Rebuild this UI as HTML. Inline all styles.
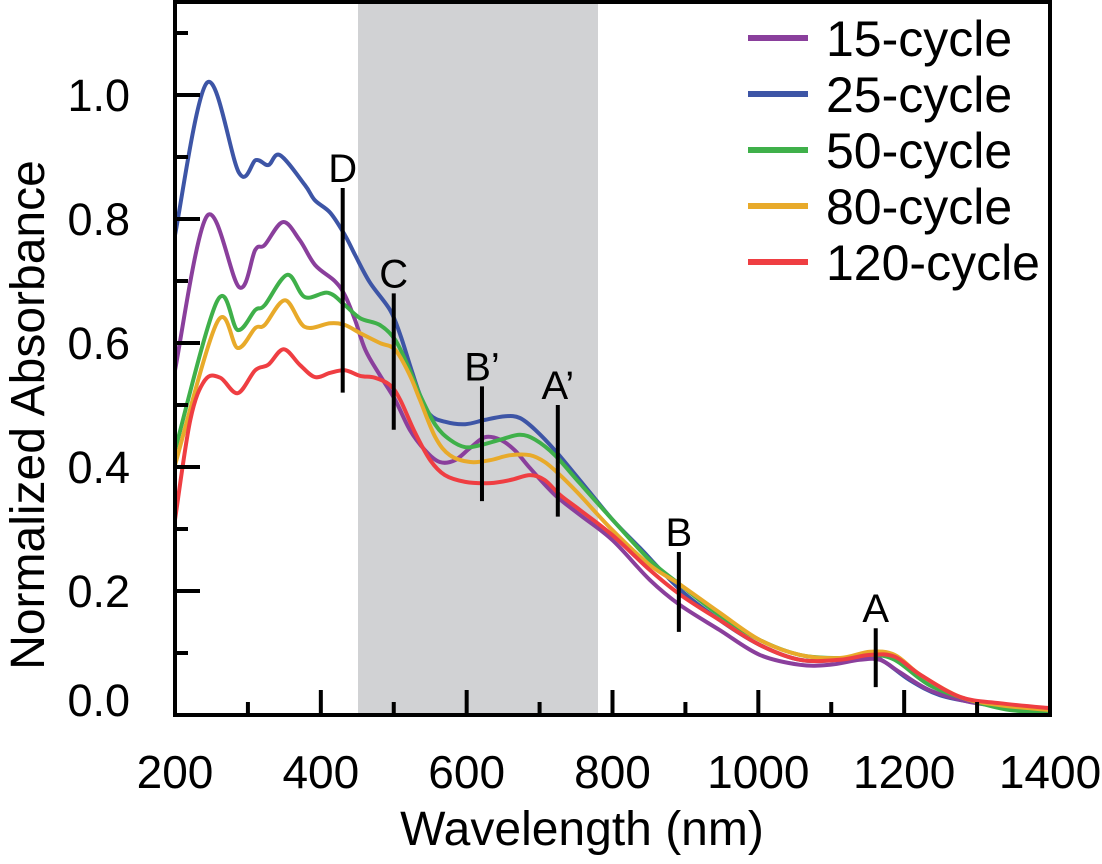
<!DOCTYPE html>
<html><head><meta charset="utf-8"><style>
html,body{margin:0;padding:0;background:#fff;}
svg{display:block;font-family:"Liberation Sans",Arial,sans-serif;}
</style></head><body>
<svg id="chart" width="1102" height="864" viewBox="0 0 1102 864">
<rect x="358" y="3" width="240" height="712" fill="#d1d2d4"/>
<g id="series"></g>
<g id="markers"></g>
<rect x="175" y="2" width="875" height="713" fill="none" stroke="#000" stroke-width="4"/>
<g id="axes"></g>
<text x="582" y="845" font-size="48" text-anchor="middle">Wavelength (nm)</text>
<text transform="translate(44,415) rotate(-90)" font-size="48" text-anchor="middle">Normalized Absorbance</text>
<g id="legend"></g>
</svg>
<script>
const seriesNames=["15-cycle","25-cycle","50-cycle","80-cycle","120-cycle"];
const seriesColors=["#8a3f9c","#3d55a6","#3fb04a","#e8aa2a","#ef3e42"];
const purpleWl=[200,244,288,310,323,348,371,392,419,433,447,461,481,502,522,543,563,584,605,625,646,666,687,721,755,800,851,893,947,1002,1057,1098,1139,1167,1194,1235,1290,1345,1400];
const purpleAbs=[0.556,0.805,0.69,0.75,0.758,0.795,0.766,0.726,0.70,0.677,0.637,0.589,0.548,0.508,0.46,0.427,0.408,0.411,0.431,0.448,0.444,0.427,0.398,0.355,0.323,0.282,0.218,0.177,0.137,0.097,0.081,0.081,0.089,0.089,0.069,0.04,0.021,0.013,0.01];
const blueWl=[200,244,288,311,328,344,378,392,413,433,447,467,495,509,522,536,550,570,598,625,653,673,694,721,755,800,838,893,947,1002,1057,1112,1153,1174,1208,1249,1304,1359,1400];
const blueAbs=[0.774,1.02,0.874,0.895,0.887,0.903,0.855,0.83,0.81,0.774,0.742,0.698,0.653,0.613,0.565,0.516,0.484,0.473,0.469,0.476,0.482,0.479,0.46,0.427,0.379,0.315,0.269,0.202,0.153,0.113,0.089,0.089,0.095,0.085,0.056,0.032,0.019,0.013,0.011];
const greenWl=[200,258,286,310,323,354,378,410,433,454,481,502,522,536,557,577,598,618,646,673,694,721,755,800,851,893,947,1002,1057,1112,1153,1187,1235,1290,1345,1400];
const greenAbs=[0.427,0.668,0.621,0.653,0.661,0.71,0.674,0.681,0.661,0.64,0.629,0.605,0.556,0.516,0.468,0.444,0.432,0.435,0.444,0.452,0.444,0.419,0.374,0.315,0.25,0.21,0.161,0.121,0.097,0.092,0.097,0.089,0.048,0.024,0.008,0.005];
const orangeWl=[200,258,286,310,323,351,378,413,433,454,481,502,522,536,557,577,605,632,660,687,707,728,755,800,851,893,947,1002,1057,1112,1153,1187,1222,1277,1331,1400];
const orangeAbs=[0.403,0.634,0.592,0.624,0.629,0.669,0.626,0.632,0.629,0.616,0.6,0.589,0.548,0.508,0.448,0.419,0.408,0.411,0.419,0.419,0.408,0.387,0.355,0.298,0.242,0.21,0.165,0.121,0.097,0.092,0.102,0.097,0.065,0.029,0.016,0.008];
const redWl=[200,221,241,262,286,310,328,349,371,392,413,433,454,474,495,509,529,550,570,598,632,660,687,707,728,755,800,851,893,947,1002,1057,1112,1153,1187,1222,1277,1331,1400];
const redAbs=[0.315,0.476,0.54,0.544,0.519,0.556,0.565,0.59,0.565,0.545,0.552,0.556,0.547,0.544,0.532,0.508,0.456,0.411,0.387,0.376,0.374,0.379,0.387,0.379,0.355,0.331,0.29,0.234,0.194,0.153,0.113,0.089,0.089,0.097,0.094,0.065,0.029,0.019,0.011];
const markerLabels=["D","C","B’","A’","B","A"];
const markerWl=[430,500,621,725,891,1161];
const markerTop=[0.85,0.68,0.53,0.5,0.263,0.14];
const markerBottom=[0.52,0.46,0.345,0.32,0.134,0.045];
const xTickLabels=["200","400","600","800","1000","1200","1400"];
const yTickLabels=["0.0","0.2","0.4","0.6","0.8","1.0"];

const X=nm=>175+(nm-200)*875/1200;
const Y=v=>715-v*620;
const NS="http://www.w3.org/2000/svg";
function mk(tag,attrs,parent){const e=document.createElementNS(NS,tag);for(const k in attrs)e.setAttribute(k,attrs[k]);parent.appendChild(e);return e;}
function smooth(pts){let d="M"+pts[0][0].toFixed(1)+","+pts[0][1].toFixed(1);
 for(let i=0;i<pts.length-1;i++){const p0=pts[Math.max(i-1,0)],p1=pts[i],p2=pts[i+1],p3=pts[Math.min(i+2,pts.length-1)];
  const c1=[p1[0]+(p2[0]-p0[0])/6,p1[1]+(p2[1]-p0[1])/6],c2=[p2[0]-(p3[0]-p1[0])/6,p2[1]-(p3[1]-p1[1])/6];
  d+="C"+c1[0].toFixed(1)+","+c1[1].toFixed(1)+" "+c2[0].toFixed(1)+","+c2[1].toFixed(1)+" "+p2[0].toFixed(1)+","+p2[1].toFixed(1);}
 return d;}
const data=[[purpleWl,purpleAbs],[blueWl,blueAbs],[greenWl,greenAbs],[orangeWl,orangeAbs],[redWl,redAbs]];
const sg=document.getElementById("series");
const drawOrder=[1,0,2,3,4];
drawOrder.forEach(i=>{const [w,a]=data[i];
 const p=mk("path",{d:smooth(w.map((n,j)=>[X(n),Y(a[j])])),fill:"none",stroke:seriesColors[i],"stroke-width":4,"stroke-linejoin":"round"},sg);
 
 
});
const mg=document.getElementById("markers");
markerLabels.forEach((l,i)=>{
 const ln=mk("line",{x1:X(markerWl[i]),x2:X(markerWl[i]),y1:Y(markerTop[i]),y2:Y(markerBottom[i]),stroke:"#000","stroke-width":4},mg);
 
 
 const t=mk("text",{x:X(markerWl[i]),y:Y(markerTop[i])-6,"font-size":40,"text-anchor":"middle"},mg);
 t.textContent=l;
 
 
});
const ag=document.getElementById("axes");
for(let nm=200;nm<=1400;nm+=100){const major=nm%200===0;
 const tk=mk("line",{x1:X(nm),x2:X(nm),y1:715,y2:major?690:702,stroke:"#000","stroke-width":4},ag);
 
 }
xTickLabels.forEach((l,i)=>{const t=mk("text",{x:X(200+i*200),y:788,"font-size":46,"text-anchor":"middle"},ag);t.textContent=l;
 
 });
for(let k=0;k<=11;k++){const v=k*0.1,major=k%2===0;
 const tk=mk("line",{x1:175,x2:major?200:188,y1:Y(v),y2:Y(v),stroke:"#000","stroke-width":4},ag);
 
 }
yTickLabels.forEach((l,i)=>{const yy=i===0?Y(0)+1:Y(i*0.2)+16;const t=mk("text",{x:130,y:yy,"font-size":45,"text-anchor":"end"},ag);t.textContent=l;
 
 });
const lg=document.getElementById("legend");
seriesNames.forEach((n,i)=>{const y=38+i*56;
 const ln=mk("line",{x1:748,x2:808,y1:y,y2:y,stroke:seriesColors[i],"stroke-width":6},lg);
 
 
 const t=mk("text",{x:826,y:y+18,"font-size":50},lg);t.textContent=n;
 
 });
</script>
</body></html>
